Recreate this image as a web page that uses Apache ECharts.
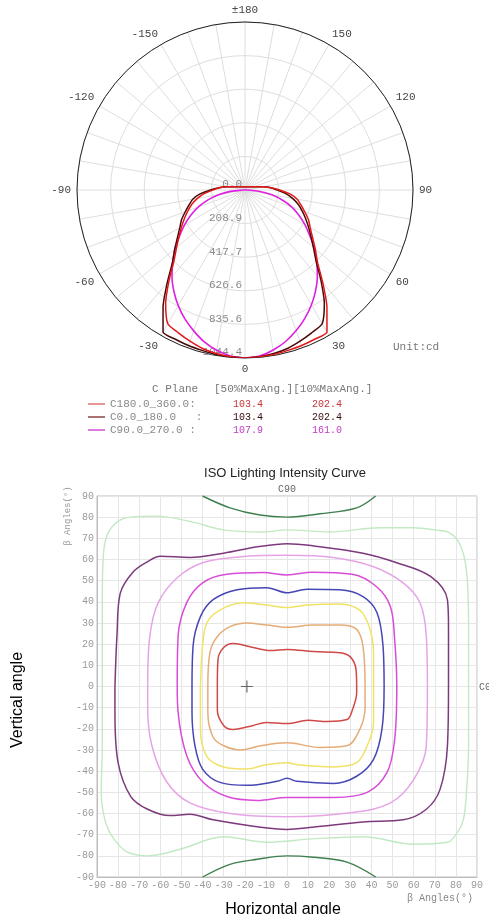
<!DOCTYPE html>
<html>
<head>
<meta charset="utf-8">
<script src="https://cdn.jsdelivr.net/npm/echarts@6/dist/echarts.min.js"></script>
<style>
html, body { margin: 0; padding: 0; background: #fff; }
#chart { width: 489px; height: 914px; }
</style>
</head>
<body>
<div id="chart"></div>
<script>
// ---- polar (intensity distribution) data, cd ----
var gammaDeg = [0, 5, 10, 15, 20, 25, 30, 35, 40, 45, 50, 55, 60, 65, 70, 75, 80, 85, 90, 95, 100, 105, 110, 120, 130, 140, 150, 160, 170, 180];
var c180Vals = [1044, 1041, 1038, 1032, 1029, 1024, 1019, 888, 752, 638, 570, 512, 468, 435, 395, 360, 330, 280, 215, 162, 118, 79, 60, 41, 32, 27, 24, 22, 21, 20];
var c0Vals = [1044, 1040, 1032, 1020, 1000, 980, 960, 860, 735, 625, 555, 500, 455, 415, 378, 342, 300, 255, 200, 160, 118, 79, 60, 41, 32, 27, 24, 22, 21, 20];
var c90Vals = [1044, 1036, 1010, 975, 930, 880, 825, 765, 700, 630, 560, 490, 430, 370, 310, 240, 165, 85, 10, 3, 2, 2, 2, 2, 2, 2, 2, 2, 2, 2];
var c270Vals = [1044, 1036, 1012, 978, 932, 884, 830, 770, 706, 636, 566, 496, 434, 372, 308, 238, 162, 82, 10, 3, 2, 2, 2, 2, 2, 2, 2, 2, 2, 2];
var radialLabels = ['0.0', '208.9', '417.7', '626.6', '835.6', '1044.4'];

var planeNames = ['C180.0_360.0:', 'C0.0_180.0   :', 'C90.0_270.0 :'];
var ang50 = ['103.4', '103.4', '107.9'];
var ang10 = ['202.4', '202.4', '161.0'];

// ---- ISO curve data (beta angle x, vertical angle y) ----
var isoGreenTopX = [-40, -27, -12.8, 0, 15.6, 33, 42];
var isoGreenTopY = [90, 84.4, 81, 80, 81.6, 84.4, 90];
var isoGreenBotX = [-40, -27, -14, 0, 12.6, 28.4, 42];
var isoGreenBotY = [-90, -84, -81.6, -80, -80.7, -83, -90];
var isoLightGreenX = [-87.5, -87.5, -87, -85, -80, -74, -62, -46, -30, -11, 0, 20, 44, 60, 70, 77, 82, 85, 86, 86, 86, 85, 83.5, 80, 76, 60, 36, 12, -9.5, -30, -51, -66, -76, -82, -86, -88, -87.5];
var isoLightGreenY = [0, 40, 62, 72, 78, 80, 80.5, 78, 74, 73, 74, 73, 75, 75, 74, 72.6, 67, 55, 30, 0, -28, -50, -63, -70, -73.6, -74.5, -71, -72, -73.6, -71, -77, -80, -78, -72, -64, -50, -28];
var isoPurpleX = [-81.5, -80.5, -79, -73, -66, -60, -46, -30, -14, 0, 12, 36, 52, 68, 76, 76.5, 76.5, 76, 72.5, 66, 55, 36, 12, 0, -16, -35, -46, -55.5, -66, -74, -80, -81.5];
var isoPurpleY = [0, 25, 44, 54, 59, 61.5, 61, 63, 66, 67.5, 66.5, 63, 58.5, 52, 41, 28, 0, -28, -48.6, -58, -63, -64, -66.5, -67.5, -66, -63, -60.4, -61, -58, -52, -36, -12];
var isoPinkX = [-66, -65, -61, -52, -40, -22, 0, 22, 41, 55, 63, 66, 66.5, 66, 60, 49, 31, 0, -27, -46, -57, -64, -66];
var isoPinkY = [0, 23.6, 39.6, 51.4, 58.5, 61.3, 62, 61, 56.6, 49, 39.6, 23.6, 0, -28, -44, -55, -59.5, -61.5, -60, -55, -45, -28, -9.4];
var isoMagentaX = [-52, -51.6, -47.5, -40, -28.5, -11.4, 0, 12, 31, 42.6, 49, 51, 52, 51, 47.4, 38, 22, 0, -14, -28.5, -40, -47.4, -51.6];
var isoMagentaY = [0, 23.6, 39.6, 49, 53, 53.8, 52.7, 54, 53, 47, 37.7, 22, 0, -25, -40.6, -50, -52.4, -52.4, -53.8, -52, -45, -33, -12];
var isoBlueX = [-45, -44.5, -41, -35, -23.7, -9.5, 0, 9.5, 25, 36, 42.6, 45.5, 46, 45, 41, 33, 22, 4.7, 0, -4.7, -19, -31.8, -40, -43.6, -45];
var isoBlueY = [0, 19, 33, 41, 45.7, 46.7, 44.3, 46, 45.7, 42.5, 35, 19, 0, -20, -34.4, -42.4, -45.8, -44.8, -43.4, -44.8, -46.7, -45.3, -39, -28, -12];
var isoYellowX = [-41, -40, -38, -32, -21, -9.5, 0, 9.5, 25, 34.6, 39, 41, 41, 41, 38, 33, 22, 5, 0, -10, -19, -30, -38, -41];
var isoYellowY = [0, 19, 30, 36, 39.6, 38.5, 37.3, 38.5, 39, 36, 28, 16, 0, -17, -28, -36, -38, -37, -36, -37, -39, -38, -33, -20];
var isoTanX = [-37.5, -36.5, -33, -27, -19, -9.5, 0, 12.6, 25, 33, 36, 37, 37, 34.6, 28.4, 15.6, 0, -12.6, -22, -30, -35, -37.5];
var isoTanY = [0, 16, 23.6, 28.3, 30, 29, 28, 29, 29, 27, 19, 0, -9.4, -20, -28, -28.8, -26.6, -28, -30, -28, -24, -12];
var isoRedX = [-33, -32.7, -30, -25.6, -16, -8, 0, 12.6, 25, 30, 32.7, 33, 33, 31, 28.4, 19, 10, 0, -10, -16, -25.6, -30, -33];
var isoRedY = [0, 12.7, 18.4, 20.3, 18.4, 17, 17.5, 16.5, 16, 14, 8, 0, -3, -11, -15.6, -16.5, -16, -17.5, -17, -18.4, -20.3, -18.4, -11];
var centerMark = [-19, 0];

function planeCurve(rightVals, leftVals) {
  var pts = [];
  for (var i = 0; i < gammaDeg.length; i++) pts.push([rightVals[i], gammaDeg[i]]);
  for (var j = gammaDeg.length - 1; j >= 0; j--) pts.push([leftVals[j], 360 - gammaDeg[j]]);
  return pts;
}

function zip(xs, ys, close) {
  var pts = xs.map(function (x, i) { return [x, ys[i]]; });
  if (close) pts.push([xs[0], ys[0]]);
  return pts;
}

function isoLine(xs, ys, color, width, close) {
  return {
    type: 'line',
    xAxisIndex: 0,
    yAxisIndex: 0,
    data: zip(xs, ys, close),
    showSymbol: false,
    smooth: 0.35,
    silent: true,
    lineStyle: { color: color, width: width }
  };
}

var mono = 'Liberation Mono';
var legendColors = ['#e07272', '#8e4444', '#d24fd2'];
var valueColors = ['#c83232', '#3a0a0a', '#c23cc2'];

var graphics = [
  { type: 'text', x: 393, y: 347, style: { text: 'Unit:cd', font: '11px ' + mono, fill: '#777', textAlign: 'left', textVerticalAlign: 'middle' } },
  { type: 'text', x: 152, y: 389, style: { text: 'C Plane', font: '11px ' + mono, fill: '#777', textAlign: 'left', textVerticalAlign: 'middle' } },
  { type: 'text', x: 214, y: 389, style: { text: '[50%MaxAng.][10%MaxAng.]', font: '11px ' + mono, fill: '#777', textAlign: 'left', textVerticalAlign: 'middle' } },
  { type: 'text', x: 285, y: 473, style: { text: 'ISO Lighting Intensity Curve', font: '13px Liberation Sans', fill: '#222', textAlign: 'center', textVerticalAlign: 'middle' } },
  { type: 'text', x: 287, y: 489, style: { text: 'C90', font: '10px ' + mono, fill: '#666', textAlign: 'center', textVerticalAlign: 'middle' } },
  { type: 'text', x: 479, y: 687, style: { text: 'C0', font: '10px ' + mono, fill: '#666', textAlign: 'left', textVerticalAlign: 'middle' } },
  { type: 'text', x: 407, y: 898, style: { text: 'β Angles(°)', font: '10px ' + mono, fill: '#888', textAlign: 'left', textVerticalAlign: 'middle' } },
  { type: 'text', x: 68, y: 516, rotation: Math.PI / 2, style: { text: 'β Angles(°)', font: '9px ' + mono, fill: '#999', textAlign: 'center', textVerticalAlign: 'middle' } },
  { type: 'text', x: 18, y: 700, rotation: Math.PI / 2, style: { text: 'Vertical angle', font: '16px Liberation Sans', fill: '#000', textAlign: 'center', textVerticalAlign: 'middle' } },
  { type: 'text', x: 283, y: 902, style: { text: 'Horizontal angle', font: '16px Liberation Sans', fill: '#000', textAlign: 'center', textVerticalAlign: 'top' } }
];
var rowY = [404, 417, 430];
for (var r = 0; r < planeNames.length; r++) {
  graphics.push({ type: 'line', shape: { x1: 88, y1: rowY[r], x2: 105, y2: rowY[r] }, style: { stroke: legendColors[r], lineWidth: 1.5 } });
  graphics.push({ type: 'text', x: 110, y: rowY[r], style: { text: planeNames[r], font: '11px ' + mono, fill: '#888', textAlign: 'left', textVerticalAlign: 'middle' } });
  graphics.push({ type: 'text', x: 248, y: rowY[r], style: { text: ang50[r], font: '10px ' + mono, fill: valueColors[r], textAlign: 'center', textVerticalAlign: 'middle' } });
  graphics.push({ type: 'text', x: 327, y: rowY[r], style: { text: ang10[r], font: '10px ' + mono, fill: valueColors[r], textAlign: 'center', textVerticalAlign: 'middle' } });
}

var chart = echarts.init(document.getElementById('chart'));
chart.setOption({
  animation: false,
  backgroundColor: '#fff',
  polar: { center: [245, 190], radius: 168 },
  angleAxis: {
    type: 'value',
    min: 0,
    max: 360,
    interval: 10,
    startAngle: 270,
    clockwise: false,
    axisLine: { lineStyle: { color: '#222', width: 1 } },
    axisTick: { show: false },
    axisLabel: {
      color: '#444',
      fontFamily: mono,
      fontSize: 11,
      margin: 6,
      formatter: function (v) {
        if (v % 30 !== 0 || v === 360) return '';
        if (v === 180) return '±180';
        return v > 180 ? String(v - 360) : String(v);
      }
    },
    splitLine: { lineStyle: { color: '#dedede', width: 1 } }
  },
  radiusAxis: {
    type: 'value',
    min: 0,
    max: 1044.4,
    interval: 208.88,
    axisLine: { show: false },
    axisTick: { show: false },
    axisLabel: {
      color: '#8a8a8a',
      fontFamily: mono,
      fontSize: 11,
      margin: -3,
      align: 'right',
      verticalAlign: 'bottom',
      formatter: function (v, i) { return radialLabels[i]; }
    },
    splitLine: { show: true, lineStyle: { color: '#dedede', width: 1 } }
  },
  grid: { left: 97, top: 496, width: 380, height: 381, show: true, borderColor: '#bdbdbd', borderWidth: 1 },
  xAxis: {
    type: 'value', min: -90, max: 90, interval: 10,
    axisLine: { onZero: false, lineStyle: { color: '#bdbdbd' } },
    axisTick: { show: false },
    axisLabel: { color: '#9a9a9a', fontFamily: mono, fontSize: 10, margin: 3 },
    splitLine: { lineStyle: { color: '#e6e6e6' } }
  },
  yAxis: {
    type: 'value', min: -90, max: 90, interval: 10,
    axisLine: { onZero: false, lineStyle: { color: '#bdbdbd' } },
    axisTick: { show: false },
    axisLabel: { color: '#9a9a9a', fontFamily: mono, fontSize: 10, margin: 3 },
    splitLine: { lineStyle: { color: '#e6e6e6' } }
  },
  graphic: graphics,
  series: [
    { type: 'line', coordinateSystem: 'polar', data: planeCurve(c90Vals, c270Vals), showSymbol: false, smooth: 0.3, lineStyle: { color: '#e020e0', width: 1.6 } },
    { type: 'line', coordinateSystem: 'polar', data: planeCurve(c0Vals, c180Vals), showSymbol: false, smooth: 0.2, lineStyle: { color: '#4a0808', width: 1.5 } },
    { type: 'line', coordinateSystem: 'polar', data: planeCurve(c180Vals, c0Vals), showSymbol: false, smooth: 0.2, lineStyle: { color: '#e01818', width: 1.5 } },
    isoLine(isoGreenTopX, isoGreenTopY, '#3f7f4f', 1.4, false),
    isoLine(isoGreenBotX, isoGreenBotY, '#3f7f4f', 1.4, false),
    isoLine(isoLightGreenX, isoLightGreenY, '#c3e9c3', 1.4, true),
    isoLine(isoPurpleX, isoPurpleY, '#7c3a7c', 1.5, true),
    isoLine(isoPinkX, isoPinkY, '#e6a4e6', 1.5, true),
    isoLine(isoMagentaX, isoMagentaY, '#d84cd8', 1.5, true),
    isoLine(isoBlueX, isoBlueY, '#4646b4', 1.5, true),
    isoLine(isoYellowX, isoYellowY, '#f0e266', 1.5, true),
    isoLine(isoTanX, isoTanY, '#e6ac78', 1.5, true),
    isoLine(isoRedX, isoRedY, '#d04848', 1.5, true),
    {
      type: 'scatter',
      data: [centerMark],
      symbol: 'path://M-0.6,-6 h1.2 v5.4 h5.4 v1.2 h-5.4 v5.4 h-1.2 v-5.4 h-5.4 v-1.2 h5.4 z',
      symbolSize: 12,
      silent: true,
      itemStyle: { color: '#444' }
    }
  ]
});
</script>
</body>
</html>
